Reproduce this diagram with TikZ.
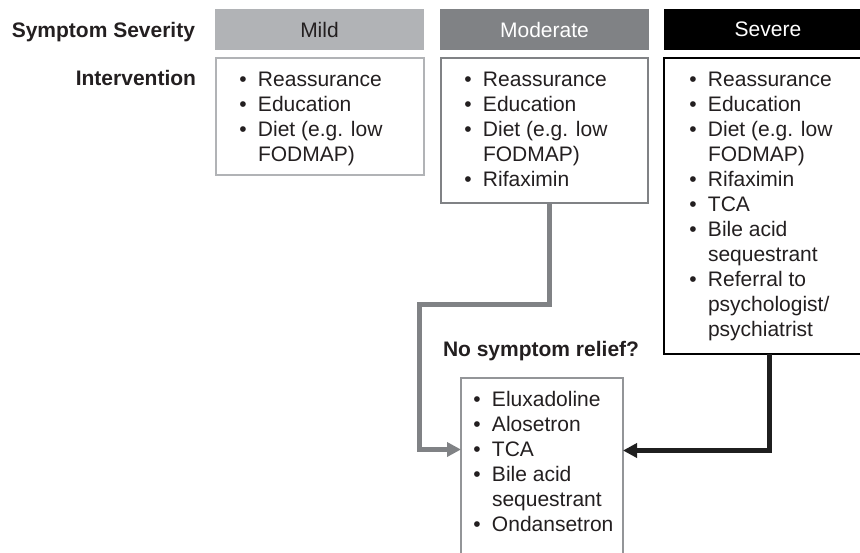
\documentclass[tikz,border=0pt]{standalone}
\usepackage{fontspec}
\setmainfont{Liberation Sans}
\usetikzlibrary{arrows.meta}
\definecolor{txt}{HTML}{231F20}
\definecolor{lightg}{HTML}{B1B3B6}
\definecolor{midg}{HTML}{808285}
\definecolor{boxg}{HTML}{939598}
\newcommand\bl{\llap{\makebox[30pt]{\textbullet}}}
\begin{document}
\begin{tikzpicture}[x=1pt,y=-1pt,
  every node/.style={inner sep=0pt,outer sep=0pt,text=txt,font=\fontsize{21}{25}\selectfont},
  hdr/.style={minimum height=41pt,anchor=north west},
  ibox/.style={draw,line width=1.5pt,fill=white,anchor=north west},
  lst/.style={anchor=base west},
  lbl/.style={anchor=base east,font=\fontsize{21}{25}\selectfont\bfseries},
  conn/.style={line width=5pt,line join=miter,-{Triangle[length=14pt,width=14pt]}}
]
\useasboundingbox (0,0) rectangle (860,552);
\clip (0,0) rectangle (860,552);
% headers
\node[hdr,fill=lightg,minimum width=209pt] (mildh) at (215,9) {Mild};
\node[hdr,fill=midg,minimum width=209pt,text=white] (modh) at (440,9) {Moderate};
\node[hdr,fill=black,minimum width=208pt,text=white] (sevh) at (664,9) {Severe};
\node[lbl] (sslbl) at (195,37) {Symptom Severity};
\node[lbl] (intlbl) at (196,85) {Intervention};
% intervention boxes
\node[ibox,draw=lightg,minimum width=208pt,minimum height=117pt] (mildb) at (216,58) {};
\node[ibox,draw=midg,minimum width=207pt,minimum height=145pt] (modb) at (441,58) {};
\node[ibox,draw=black,minimum width=210pt,minimum height=296pt] (sevb) at (664,58) {};
\node[ibox,draw=boxg,minimum width=162pt,minimum height=200pt] (finb) at (461,378) {};
% texts
\node[lst] (mildt) at (258,86) {\begin{tabular}[t]{@{}l@{}}\bl Reassurance\\\bl Education\\\bl Diet (e.g. low\\FODMAP)\end{tabular}};
\node[lst] (modt) at (483,86) {\begin{tabular}[t]{@{}l@{}}\bl Reassurance\\\bl Education\\\bl Diet (e.g. low\\FODMAP)\\\bl Rifaximin\end{tabular}};
\node[lst] (sevt) at (708,86) {\begin{tabular}[t]{@{}l@{}}\bl Reassurance\\\bl Education\\\bl Diet (e.g. low\\FODMAP)\\\bl Rifaximin\\\bl TCA\\\bl Bile acid\\sequestrant\\\bl Referral to\\psychologist/\\psychiatrist\end{tabular}};
\node[lst] (fint) at (492,406) {\begin{tabular}[t]{@{}l@{}}\bl Eluxadoline\\\bl Alosetron\\\bl TCA\\\bl Bile acid\\sequestrant\\\bl Ondansetron\end{tabular}};
\node[lst,font=\fontsize{21}{25}\selectfont\bfseries] (nsr) at (443,356) {No symptom relief?};
% connectors
\draw[conn,draw=midg] (modb.south -| 549,0) -- (549,304.5) -- (419.5,304.5) -- (419.5,449.5) -- (finb.west |- 0,449.5);
\draw[conn,draw=black!88] (sevb.south -| 769.5,0) -- (769.5,450.5) -- (finb.east |- 0,450.5);
\end{tikzpicture}
\end{document}
